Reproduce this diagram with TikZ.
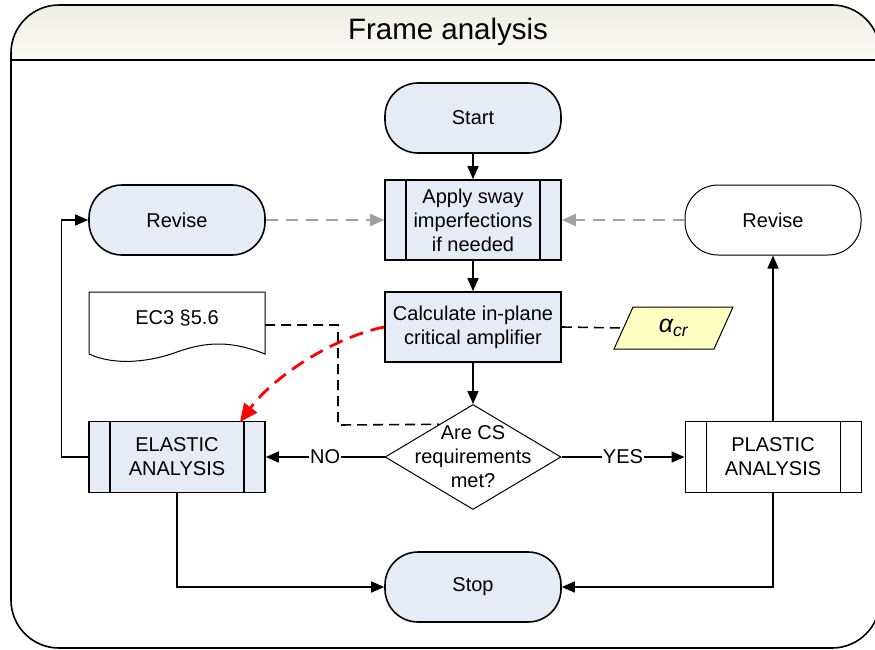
\documentclass[tikz,border=0pt]{standalone}
\usepackage{fontspec}
\setmainfont{Liberation Sans}
\usetikzlibrary{arrows.meta,shapes.geometric}
\definecolor{boxblue}{HTML}{E5ECF6}
\definecolor{notefill}{HTML}{FFFFC4}
\definecolor{headtop}{HTML}{ECECDF}
\definecolor{headbot}{HTML}{FBFBF7}
\definecolor{hintgray}{HTML}{A0A0A0}
\begin{document}
\begin{tikzpicture}[x=1pt,y=-1pt,
  every node/.style={font=\fontsize{20}{24}\selectfont, align=center, inner sep=0pt},
  terminal/.style={draw, line width=1.6pt, fill=boxblue, rounded corners=33pt,
    minimum width=176pt, minimum height=70pt},
  terminalw/.style={terminal, fill=white, line width=1pt},
  subproc/.style={draw, line width=1.6pt, fill=boxblue, minimum width=176pt, minimum height=70pt,
    path picture={
      \draw[line width=1.6pt] ([xshift=21pt]path picture bounding box.north west) -- ([xshift=21pt]path picture bounding box.south west);
      \draw[line width=1.6pt] ([xshift=-21pt]path picture bounding box.north east) -- ([xshift=-21pt]path picture bounding box.south east);}},
  subprocw/.style={draw, line width=1pt, fill=white, minimum width=176pt, minimum height=70pt,
    path picture={
      \draw[line width=1pt] ([xshift=21pt]path picture bounding box.north west) -- ([xshift=21pt]path picture bounding box.south west);
      \draw[line width=1pt] ([xshift=-21pt]path picture bounding box.north east) -- ([xshift=-21pt]path picture bounding box.south east);}},
  procbox/.style={draw, line width=1.6pt, fill=boxblue, minimum width=176pt, minimum height=70pt},
  flow/.style={line width=1.4pt, -{Triangle[length=13pt,width=11pt]}},
  hint/.style={hintgray, line width=1.7pt, dash pattern=on 12pt off 8pt, -{Triangle[length=14pt,width=12pt]}},
  refline/.style={line width=1.6pt, dash pattern=on 10pt off 6pt},
  lbl/.style={fill=white, inner sep=1pt}
]
\useasboundingbox (0,0) rectangle (875,650);

% outer frame with shaded title band
\begin{scope}
  \clip[rounded corners=48pt] (11,5) rectangle (880,648);
  \fill[top color=headtop, bottom color=headbot] (0,0) rectangle (900,60);
\end{scope}
\draw[rounded corners=48pt, line width=1.6pt] (11,5) rectangle (880,648);
\draw[line width=1.6pt] (11,60) -- (880,60);
\node[font=\fontsize{29.5}{34}\selectfont] (title) at (448,32) {Frame analysis};

% main column
\node[terminal] (start) at (473,118) {Start};
\node[subproc, minimum height=80pt] (apply) at (473,220) {Apply sway\\imperfections\\if needed};
\node[procbox] (calc) at (473,327) {Calculate in-plane\\critical amplifier};
\node[draw, diamond, line width=1pt, fill=white, minimum width=176pt, minimum height=105pt] (dec) at (473,457) {};
\node (dectext) at (473,457) {Are CS\\requirements\\met?};
\node[terminal] (stop) at (473,587) {Stop};

% side boxes
\node[terminal] (revL) at (177,220) {Revise};
\node[terminalw] (revR) at (773,220) {Revise};
\node[subproc, minimum height=71pt] (elastic) at (177,457) {ELASTIC\\ANALYSIS};
\node[subprocw, minimum height=71pt] (plastic) at (773,457) {PLASTIC\\ANALYSIS};

% code reference (document shape)
\draw[fill=white, line width=1pt] (89,292) -- (265,292) -- (265,354)
  .. controls (230,340) and (205,342) .. (177,352)
  .. controls (150,362) and (115,366) .. (89,354) -- cycle;
\node[minimum width=176pt] (ec3) at (177,318) {EC3 §5.6};

% critical amplifier output (parallelogram)
\draw[fill=notefill, line width=1pt] (633,307) -- (733,307) -- (714,349) -- (614,349) -- cycle;
\node[minimum width=81pt, minimum height=42pt, font=\fontsize{25}{28}\selectfont\itshape] (alpha) at (673.5,328) {α\textsubscript{cr}};

% flow connectors
\draw[flow] (start) -- (apply);
\draw[flow] (apply) -- (calc);
\draw[flow] (calc) -- (dec.north);
\draw[flow] (dec.west) -- node[lbl] {NO} (elastic.east);
\draw[flow] (dec.east) -- node[lbl] {YES} (plastic.west);
\draw[flow] (elastic.west) -- ++(-27,0) |- (revL.west);
\draw[flow] (plastic.north) -- (revR.south);
\draw[flow] (elastic.south) |- (stop.west);
\draw[flow] (plastic.south) |- (stop.east);

% revision feedback
\draw[hint] (revL.east) -- (apply.west);
\draw[hint] (revR.west) -- (apply.east);

% references
\draw[refline] ([yshift=-7pt]ec3.east) -| (338,425) -- (dec.136.7);
\draw[refline] (calc.east) -- ([xshift=-9.5pt]alpha.west);
\draw[red, line width=2.8pt, dash pattern=on 14pt off 8pt, -{Triangle[length=18pt,width=16pt]}]
  (calc.west) .. controls (335,337) and (275,375) .. (240,422);
\end{tikzpicture}
\end{document}
